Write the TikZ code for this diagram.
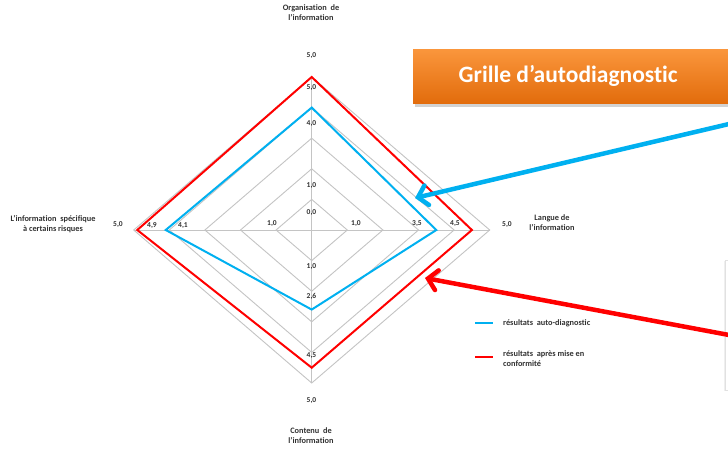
\documentclass[tikz,border=0pt]{standalone}
\usepackage{fontspec}
\setmainfont[Ligatures=NoCommon]{Carlito}
\usetikzlibrary{arrows.meta,shadows}
\definecolor{serieblue}{RGB}{0,176,240}
\definecolor{seriered}{RGB}{255,0,0}
\definecolor{gridgray}{RGB}{196,196,196}
\definecolor{orangetop}{RGB}{250,150,60}
\definecolor{orangebot}{RGB}{226,108,12}
\definecolor{labeltext}{RGB}{50,50,50}
\tikzset{
  gridline/.style={draw=gridgray,line width=0.9pt},
  bluepoly/.style={draw=serieblue,line width=2pt,line join=miter},
  redpoly/.style={draw=seriered,line width=2pt,line join=miter},
  vallabel/.style={font=\fontsize{7.5}{8}\selectfont\bfseries,text=labeltext,inner sep=0pt},
  axislabel/.style={font=\fontsize{8.3}{10}\selectfont\bfseries,text=labeltext,align=center,inner sep=0pt},
  legtext/.style={font=\fontsize{8.3}{10}\selectfont\bfseries,text=labeltext,align=left,anchor=west,inner sep=0pt},
  bigarrow/.style={line width=4.5pt,line cap=round,-{Straight Barb[length=9pt,width=20pt,line cap=round]}},
  titlebox/.style={top color=orangetop,bottom color=orangebot,draw=none,
    drop shadow={shadow xshift=2pt,shadow yshift=-4pt,opacity=0.35},
    minimum height=54pt,text=white,font=\fontsize{23.5}{25}\selectfont\bfseries}
}
\begin{document}
\begin{tikzpicture}[x=1pt,y=-1pt]
\useasboundingbox (0,0) rectangle (728,451);
\fill[white] (0,0) rectangle (728,451);
\def\cx{311.7}\def\cy{230}\def\ux{35.6}\def\uy{30.6}
% grid rings
\foreach \k in {1,...,5}{
  \draw[gridline] (\cx+\k*\ux,\cy) -- (\cx,\cy-\k*\uy) -- (\cx-\k*\ux,\cy) -- (\cx,\cy+\k*\uy) -- cycle;
}
% axes
\coordinate (c) at (\cx,\cy);
\coordinate (ax1) at (\cx,\cy-5*\uy);
\coordinate (ax2) at (\cx+5*\ux,\cy);
\coordinate (ax3) at (\cx,\cy+5*\uy);
\coordinate (ax4) at (\cx-5*\ux,\cy);
\foreach \a in {ax1,ax2,ax3,ax4}{\draw[gridline] (c) -- (\a);}
% series
\draw[redpoly] (\cx,\cy-5*\uy) -- (\cx+4.5*\ux,\cy) -- (\cx,\cy+4.5*\uy) -- (\cx-4.9*\ux,\cy) -- cycle;
\draw[bluepoly] (\cx,\cy-4*\uy) -- (\cx+3.5*\ux,\cy) -- (\cx,\cy+2.6*\uy) -- (\cx-4.1*\ux,\cy) -- cycle;
% value labels
\node[vallabel] (v1) at (311.5,88) {5,0};
\node[vallabel] (v2) at (311.5,124) {4,0};
\node[vallabel] (v3) at (311.5,186) {1,0};
\node[vallabel] (v4) at (311.5,213) {0,0};
\node[vallabel] (v5) at (272,224) {1,0};
\node[vallabel] (v6) at (356,224) {1,0};
\node[vallabel] (v7) at (417,224) {3,5};
\node[vallabel] (v8) at (455,224) {4,5};
\node[vallabel] (v9) at (152,226) {4,9};
\node[vallabel] (v10) at (183,226) {4,1};
\node[vallabel] (v11) at (311.5,267) {1,0};
\node[vallabel] (v12) at (311.5,296) {2,6};
\node[vallabel] (v13) at (311.5,356) {4,5};
% outer max labels
\node[vallabel] (m1) at (311.5,56) {5,0};
\node[vallabel] (m2) at (507,225) {5,0};
\node[vallabel] (m3) at (311.5,401) {5,0};
\node[vallabel] (m4) at (118,225) {5,0};
% axis names
\node[axislabel] (n1) at (311,12.5) {Organisation\ \ de\\l'information};
\node[axislabel] (n2) at (552,223) {Langue de\\l'information};
\node[axislabel] (n3) at (311,436) {Contenu\ \ de\\l'information};
\node[axislabel] (n4) at (53,224) {L'information\ \ spécifique\\à certains\ risques};
% legend
\coordinate (lb1) at (475,323); \coordinate (lb2) at (493,323);
\draw[serieblue,line width=2pt] (lb1) -- (lb2);
\node[legtext] (lt1) at (503,323) {résultats\ \ auto-diagnostic};
\coordinate (lr1) at (475,357); \coordinate (lr2) at (493,357);
\draw[seriered,line width=2pt] (lr1) -- (lr2);
\node[legtext] (lt2) at (503,359) {résultats\ \ après\ mise\ en\\conformité};
% title box
\node[titlebox,minimum width=330pt,anchor=north west] (title) at (413,49) {\hspace*{-10pt}Grille d’autodiagnostic\hspace*{10pt}};
% faint panel at right edge
\node[draw=gridgray!50,fill=white,line width=0.6pt,minimum width=30pt,minimum height=130pt,anchor=north west,
  drop shadow={shadow xshift=-1pt,shadow yshift=-1pt,opacity=0.12}] (panel) at (725,260) {};
% arrows
\coordinate (bs) at (729,124); \coordinate (bt) at (415,198);
\draw[bigarrow,serieblue] (bs) -- (bt);
\coordinate (rs) at (729,335); \coordinate (rt) at (425,278);
\draw[bigarrow,seriered] (rs) -- (rt);
\end{tikzpicture}
\end{document}
